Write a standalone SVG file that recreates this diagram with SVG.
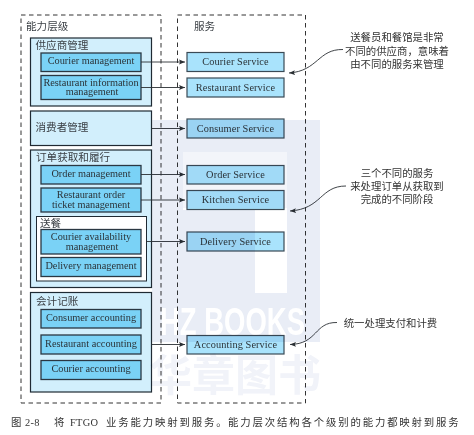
<svg xmlns="http://www.w3.org/2000/svg" width="474" height="435" viewBox="0 0 474 435">
<style>
.dash{fill:none;stroke:#333;stroke-width:1;stroke-dasharray:4.5 3.5}
.grp{fill:#d2effc;stroke:#1f2a33;stroke-width:1.2}
.in{fill:#7ad2f6;stroke:#2a3742;stroke-width:1.3}
.svc{fill:#a9e3fc;stroke:#3a4a55;stroke-width:1.2}
.en{font-family:"Liberation Serif",serif;font-size:10.3px;fill:#2b3338;text-anchor:middle}
.sv{font-family:"Liberation Serif",serif;font-size:10.3px;fill:#2b3338;text-anchor:middle;letter-spacing:.1px}
.zh{font-family:"Noto Sans CJK SC",sans-serif;font-size:10.6px;fill:#3a3f44}
.note{font-family:"Noto Sans CJK SC",sans-serif;font-size:10.4px;fill:#333;text-anchor:middle}
.cap{font-family:"Liberation Serif","Noto Sans CJK SC",serif;font-size:10.4px;fill:#333;letter-spacing:1.85px}
.lat{letter-spacing:.3px}
.con{fill:none;stroke:#2a2f33;stroke-width:.9}
.wm{mix-blend-mode:multiply}
</style>
<defs>
<marker id="arr" markerUnits="userSpaceOnUse" markerWidth="7" markerHeight="6" refX="6" refY="3" orient="auto"><path d="M0,.6 L6,3 L0,5.400 L1.200,3 Z" fill="#2a2f33"/></marker>
</defs>
<rect width="474" height="435" fill="#fff"/>
<g id="capability-layer">
<rect class="dash" x="21" y="15" width="140" height="388"/>
<text class="zh" x="26" y="29.500">能力层级</text>
</g>
<g id="service-layer">
<rect class="dash" x="177.500" y="15" width="128" height="388"/>
<text class="zh" x="194" y="29.500">服务</text>
</g>
<g id="supplier-group">
<rect class="grp" x="30.500" y="38" width="121" height="68"/>
<text class="zh" x="35.500" y="49">供应商管理</text>
</g>
<g id="courier-management"><rect class="in" x="41" y="53" width="100" height="18.500"/><text class="en" x="91" y="64">Courier management</text></g>
<g id="restaurant-information-management"><rect class="in" x="41" y="75.500" width="100" height="24"/><text class="en" x="91" y="85.500">Restaurant information</text><text class="en" x="92" y="95">management</text></g>
<g id="consumer-group">
<rect class="grp" x="30.500" y="111" width="121" height="34.500"/>
<text class="zh" x="35.500" y="130.500">消费者管理</text>
</g>
<g id="order-group">
<rect class="grp" x="30.500" y="150" width="121" height="137.500"/>
<text class="zh" x="36" y="161">订单获取和履行</text>
</g>
<g id="order-management"><rect class="in" x="41" y="165.500" width="100" height="18.500"/><text class="en" x="91" y="176.500">Order management</text></g>
<g id="restaurant-order-ticket-management"><rect class="in" x="41" y="188" width="100" height="24"/><text class="en" x="91" y="198">Restaurant order</text><text class="en" x="91" y="207.500">ticket management</text></g>
<g id="delivery-group">
<rect x="36.500" y="216.500" width="110" height="64.500" fill="#fff" stroke="#1f2a33" stroke-width="1"/>
<text class="zh" x="40" y="227">送餐</text>
</g>
<g id="courier-availability-management"><rect class="in" x="41" y="229.500" width="100" height="24.500"/><text class="en" x="91" y="240">Courier availability</text><text class="en" x="92" y="249.500">management</text></g>
<g id="delivery-management"><rect class="in" x="41" y="257.500" width="100" height="19"/><text class="en" x="91" y="268.500">Delivery management</text></g>
<g id="accounting-group">
<rect class="grp" x="30.500" y="292.500" width="121" height="99.500"/>
<text class="zh" x="36" y="305">会计记账</text>
</g>
<g id="consumer-accounting"><rect class="in" x="41" y="309.500" width="100" height="18.500"/><text class="en" x="91" y="321">Consumer accounting</text></g>
<g id="restaurant-accounting"><rect class="in" x="41" y="335" width="100" height="19"/><text class="en" x="91" y="346.500">Restaurant accounting</text></g>
<g id="courier-accounting"><rect class="in" x="41" y="360.500" width="100" height="19"/><text class="en" x="91" y="372">Courier accounting</text></g>
<g id="courier-service"><rect class="svc" x="187" y="52.500" width="97" height="19"/><text class="sv" x="235.500" y="65">Courier Service</text></g>
<g id="restaurant-service"><rect class="svc" x="187" y="78" width="97" height="19"/><text class="sv" x="235.500" y="90.500">Restaurant Service</text></g>
<g id="consumer-service"><rect class="svc" x="187" y="119" width="97" height="19"/><text class="sv" x="235.500" y="131.500">Consumer Service</text></g>
<g id="order-service"><rect class="svc" x="187" y="165.500" width="97" height="18.500"/><text class="sv" x="235.500" y="178">Order Service</text></g>
<g id="kitchen-service"><rect class="svc" x="187" y="190.500" width="97" height="19"/><text class="sv" x="235.500" y="203">Kitchen Service</text></g>
<g id="delivery-service"><rect class="svc" x="187" y="232" width="97" height="19"/><text class="sv" x="235.500" y="244.500">Delivery Service</text></g>
<g id="accounting-service"><rect class="svc" x="187" y="335.500" width="97" height="18.500"/><text class="sv" x="235.500" y="348">Accounting Service</text></g>
<g id="connectors">
<path class="con" marker-end="url(#arr)" d="M141,62 H185"/>
<path class="con" marker-end="url(#arr)" d="M141,87.500 H185"/>
<path class="con" marker-end="url(#arr)" d="M151.500,128.500 H185"/>
<path class="con" marker-end="url(#arr)" d="M141,174.500 H185"/>
<path class="con" marker-end="url(#arr)" d="M141,200 H185"/>
<path class="con" marker-end="url(#arr)" d="M146.500,241.500 H185"/>
<path class="con" marker-end="url(#arr)" d="M151.500,344.500 H185"/>
<path class="con" marker-end="url(#arr)" d="M343,49.500 C318,49 318,71 289,73"/>
<path class="con" marker-end="url(#arr)" d="M346,186 C320,186 322,209 290,211"/>
<path class="con" marker-end="url(#arr)" d="M337,322.500 C314,322 318,344 290,344.500"/>
</g>
<g id="notes">
<text class="note" x="397" y="41">送餐员和餐馆是非常</text>
<text class="note" x="397" y="55">不同的供应商&#xFF0C;意味着</text>
<text class="note" x="397" y="68">由不同的服务来管理</text>
<text class="note" x="397" y="177">三个不同的服务</text>
<text class="note" x="397" y="190">来处理订单从获取到</text>
<text class="note" x="397" y="203">完成的不同阶段</text>
<text class="note" x="390.500" y="327">统一处理支付和计费</text>
</g>
<g id="watermark" class="wm">
<path fill="#e9edf6" d="M152,120 H320 V342 H152 V210 H255 V293 H287 V152 H183 V210 H152 Z"/>
<path fill="#f3f5fa" d="M183,152 H287 V208 H183 Z"/>
<text x="160" y="335" font-family="'Liberation Sans',sans-serif" font-weight="700" font-size="38" fill="#fff" textLength="145" lengthAdjust="spacingAndGlyphs">HZ BOOKS</text>
<text x="149" y="391" font-family="'Noto Sans CJK SC',sans-serif" font-weight="700" font-size="43" fill="#f1f3f9">华章图书</text>
</g>
<g id="caption">
<text class="cap" y="426"><tspan x="11">图</tspan><tspan class="lat" x="25">2-8</tspan><tspan x="54">将</tspan><tspan class="lat" x="70">FTGO</tspan><tspan x="106">业务能力映射到服务。</tspan><tspan x="228">能力层次结构各个级别的能力都映射到服务</tspan></text>
</g>
</svg>
